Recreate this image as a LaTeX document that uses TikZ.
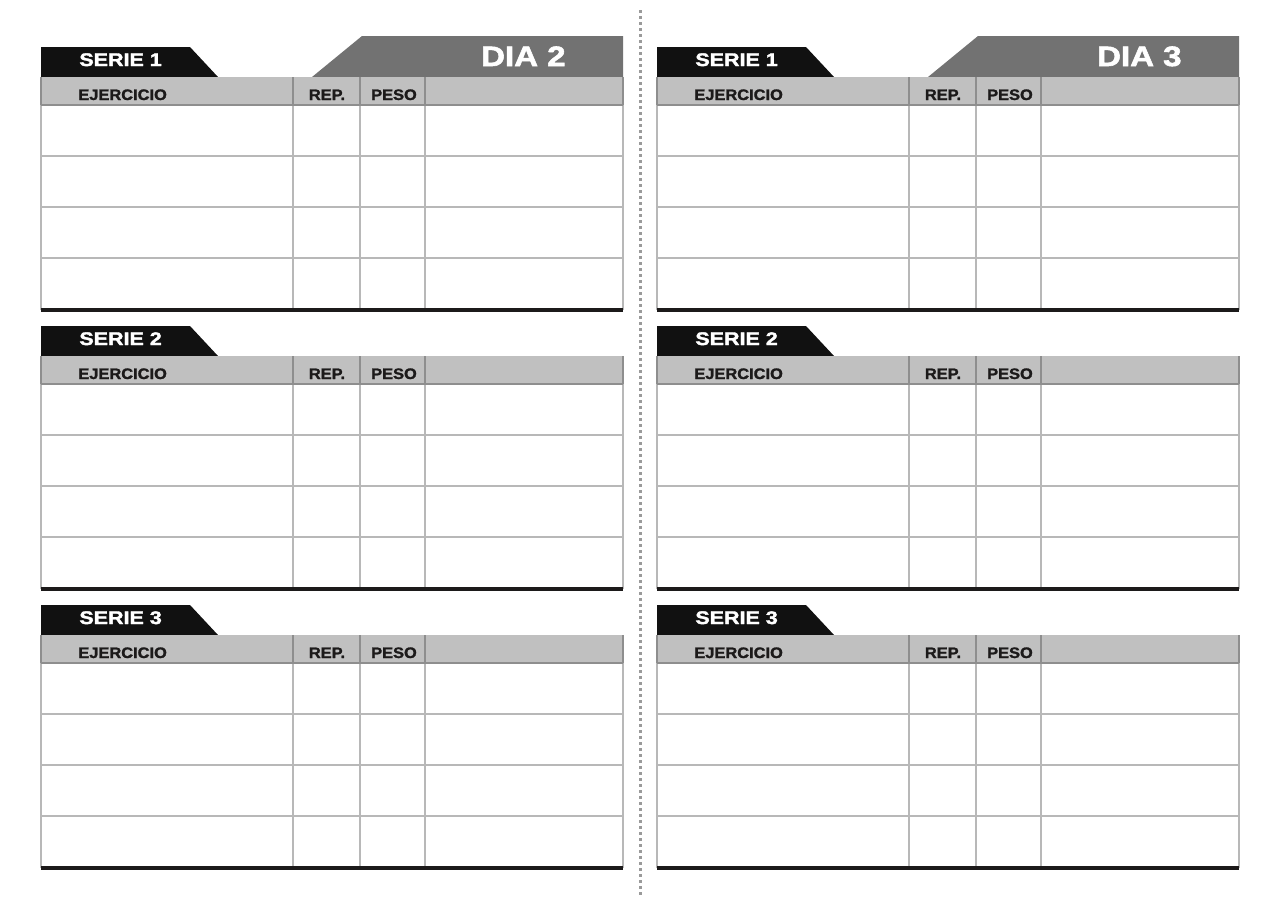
\documentclass[tikz,border=0pt]{standalone}
\usepackage{fontspec}
\setmainfont{Liberation Sans}
\newfontfamily\tabfont{Liberation Sans}[FakeStretch=1.18,FakeBold=2]
\newfontfamily\headfont{Liberation Sans}[FakeStretch=1.08,FakeBold=1.5]
\definecolor{tabblack}{HTML}{111111}
\definecolor{tabgray}{HTML}{727272}
\definecolor{bandgray}{HTML}{C0C0C0}
\definecolor{gridgray}{HTML}{B8B8B8}
\definecolor{linegray}{HTML}{8E8E8E}
\definecolor{dotgray}{HTML}{9A9A9A}
\definecolor{ruleblack}{HTML}{1C1A1A}

\begin{document}
\begin{tikzpicture}[x=0.5pt,y=-0.5pt,
    serietext/.style={inner sep=0pt,text=white,font=\tabfont\bfseries\fontsize{9.1}{10}\selectfont},
    diatext/.style={inner sep=0pt,text=white,font=\tabfont\bfseries\fontsize{14}{16}\selectfont},
    headtext/.style={inner sep=0pt,text=ruleblack,font=\headfont\bfseries\fontsize{7.6}{9}\selectfont},
    gridline/.style={draw=gridgray,line width=0.75pt},
    bandline/.style={draw=linegray,line width=0.6pt},
    thickrule/.style={draw=ruleblack,line width=2.25pt}]
    \useasboundingbox (0,0) rectangle (1280,905);
    \newcommand{\tabw}{582}
    \newcommand{\colrep}{252}
    \newcommand{\colpeso}{319}
    \newcommand{\colrest}{384}
    \newcommand{\bandh}{28}
    \newcommand{\rowh}{51}
    % divider
    \draw[dotgray,line width=1.5pt,dash pattern=on 1.4pt off 1.6pt] (640,10) -- (640,895);
    \foreach \panx/\dia in {41/2,657/3} {
        % day tab
        \fill[tabgray] (\panx+271,77) -- (\panx+321,36) -- (\panx+\tabw,36) -- (\panx+\tabw,77) -- cycle;
        \node[diatext,anchor=base east] (dia\dia) at (\panx+525,66) {DIA \dia};
        \foreach \sery/\ser in {77/1,356/2,635/3} {
            % serie tab and header band
            \fill[tabblack] (\panx,\sery) -- (\panx,\sery-30) -- (\panx+149,\sery-30) -- (\panx+177,\sery) -- cycle;
            \fill[bandgray] (\panx,\sery) rectangle (\panx+\tabw,\sery+\bandh);
            \node[serietext,anchor=base west] (serie\dia\ser) at (\panx+38,\sery-11) {SERIE \ser};
            \node[headtext,anchor=base west] (ejer\dia\ser) at (\panx+37,\sery+23) {EJERCICIO};
            \node[headtext,anchor=base] (rep\dia\ser) at (\panx+286,\sery+23) {REP.};
            \node[headtext,anchor=base] (peso\dia\ser) at (\panx+353,\sery+23) {PESO};
            % grid
            \foreach \k in {1,2,3}
                \draw[gridline] (\panx,\sery+\bandh+\k*\rowh) -- (\panx+\tabw,\sery+\bandh+\k*\rowh);
            \foreach \colx in {0,\colrep,\colpeso,\colrest,\tabw} {
                \draw[gridline] (\panx+\colx,\sery+\bandh) -- (\panx+\colx,\sery+233);
                \draw[bandline] (\panx+\colx,\sery) -- (\panx+\colx,\sery+\bandh);
            }
            \draw[bandline] (\panx,\sery+\bandh) -- (\panx+\tabw,\sery+\bandh);
            \draw[thickrule] (\panx,\sery+233) -- (\panx+\tabw,\sery+233);
        }
    }
\end{tikzpicture}
\end{document}
